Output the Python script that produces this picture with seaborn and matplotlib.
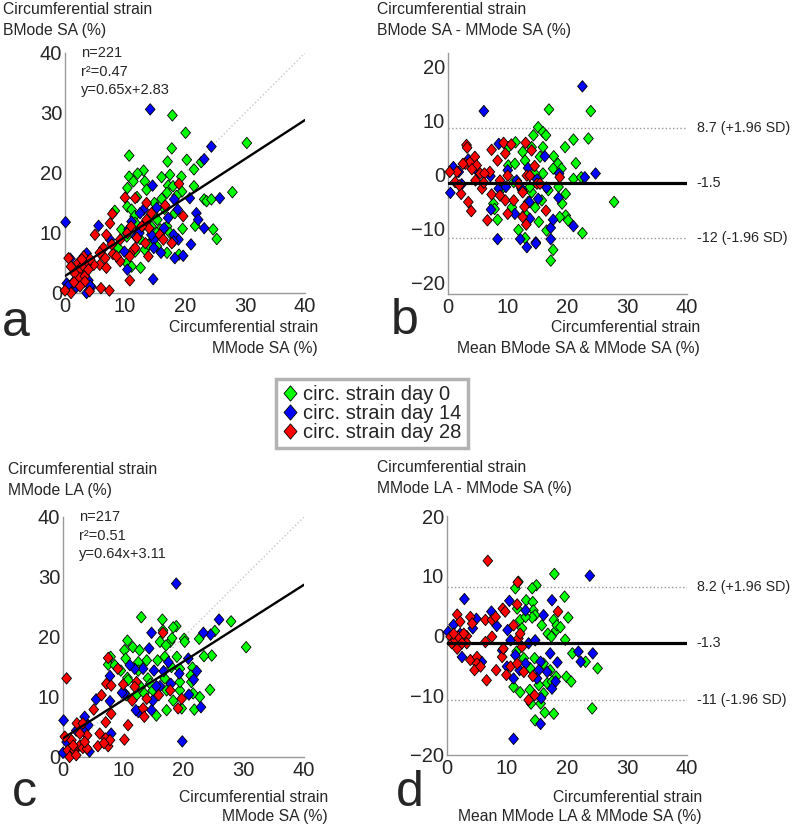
import pandas as pd
import matplotlib
matplotlib.use("Agg")
import matplotlib.pyplot as plt
import seaborn as sns
from matplotlib.path import Path
from matplotlib.markers import MarkerStyle
from matplotlib.lines import Line2D

groups = ["circ. strain day 0", "circ. strain day 14", "circ. strain day 28"]
colors = ["#00ff00", "#0000ff", "#ff0000"]

# panel a: BMode SA vs MMode SA
a_day0 = [(30.3, 25.0), (27.9, 16.8), (17.9, 29.6), (20.1, 26.7), (17.8, 24.1), (10.7, 22.9),
          (20.3, 22.2), (17.1, 21.9), (22.7, 21.8), (21.5, 20.6), (13.1, 20.4), (12.1, 19.9),
          (10.7, 19.4), (16.1, 19.3), (17.5, 19.7), (19.4, 19.4), (13.3, 18.6), (11.4, 18.6),
          (10.4, 17.5), (13.6, 17.2), (17.2, 17.9), (18.0, 17.8), (17.0, 16.7), (19.5, 16.9),
          (21.5, 17.8), (23.2, 15.6), (23.6, 15.3), (24.4, 15.6), (16.1, 15.7), (18.3, 13.3),
          (14.7, 13.3), (10.4, 14.4), (11.1, 13.9), (11.6, 12.8), (8.3, 13.7), (15.4, 12.2),
          (15.9, 10.6), (17.0, 11.1), (21.7, 11.2), (19.6, 10.7), (24.7, 10.6), (25.3, 9.0),
          (9.4, 10.6), (11.7, 11.7), (10.3, 9.4), (12.5, 9.0), (13.3, 7.2), (17.0, 6.7),
          (19.0, 6.4), (8.9, 7.5), (10.3, 5.0), (11.1, 4.4), (12.6, 4.2), (13.9, 8.1),
          (15.3, 10.0), (15.3, 7.8), (17.5, 10.0), (11.7, 6.9), (14.4, 11.1), (12.5, 10.6),
          (14.9, 15.0), (16.6, 14.0), (18.6, 16.2), (12.0, 16.0)]
a_day14 = [(14.2, 30.6), (24.4, 24.4), (23.2, 22.3), (14.6, 17.9), (20.8, 15.8), (25.8, 15.8),
           (18.2, 15.6), (15.3, 14.2), (13.1, 13.9), (21.9, 13.3), (22.2, 12.2), (23.2, 10.8),
           (18.8, 13.9), (18.9, 8.9), (18.1, 9.7), (16.5, 10.8), (21.0, 8.1), (18.3, 5.8),
           (19.7, 6.2), (14.7, 2.3), (14.8, 8.9), (14.8, 7.5), (11.1, 11.9), (11.8, 9.4),
           (12.4, 10.0), (10.4, 3.9), (9.9, 6.9), (7.5, 8.9), (5.6, 11.2), (0.1, 11.8),
           (3.6, 6.6), (0.9, 5.7), (0.3, 1.6), (0.6, 1.2), (1.5, 1.9), (3.6, 0.0),
           (3.9, 2.1), (4.4, 1.0), (1.9, 1.0), (2.5, 4.0), (4.2, 1.2), (13.6, 11.9),
           (12.5, 13.3), (10.6, 10.6), (14.4, 9.7), (17.2, 12.5), (18.1, 8.6), (16.0, 6.7)]
a_day28 = [(19.0, 18.2), (10.0, 15.9), (11.7, 15.8), (13.6, 15.0), (16.7, 14.6), (19.7, 12.8),
           (7.9, 13.2), (7.5, 11.6), (5.0, 9.7), (6.9, 9.7), (10.4, 10.0), (11.0, 11.1),
           (12.0, 9.2), (13.4, 8.3), (13.9, 6.1), (11.4, 7.2), (10.8, 6.1), (9.2, 5.3),
           (8.0, 6.5), (7.8, 8.1), (6.4, 7.5), (6.7, 5.8), (5.8, 4.7), (6.9, 4.2),
           (4.8, 4.7), (3.6, 4.7), (3.1, 6.1), (0.6, 5.8), (2.2, 5.0), (2.8, 4.4),
           (2.2, 3.6), (1.7, 3.2), (2.5, 2.5), (3.3, 2.8), (3.3, 1.9), (2.5, 1.1),
           (1.0, 0.0), (0.0, 0.4), (4.1, 0.3), (6.0, 0.8), (7.4, 0.4), (10.8, 2.1),
           (3.9, 3.9), (4.2, 5.6), (2.8, 5.6), (15.8, 9.7), (16.4, 8.9), (17.8, 8.3),
           (14.0, 10.8), (12.8, 11.1), (11.7, 7.5), (9.2, 8.9), (1.5, 1.8), (1.0, 4.4),
           (5.8, 6.7), (8.6, 6.1), (14.4, 13.3), (13.6, 12.2)]

# panel b: Bland-Altman BMode SA vs MMode SA
b_day0 = [(23.9, 11.8), (16.9, 12.1), (23.5, 6.7), (15.1, 8.8), (14.3, 7.3), (15.9, 7.9),
          (16.4, 7.3), (21.0, 6.5), (19.6, 5.1), (11.3, 6.0), (10.1, 5.1), (14.0, 5.1),
          (15.9, 5.1), (17.7, 3.4), (21.4, 2.1), (18.4, 2.0), (12.5, 4.2), (10.1, 1.7),
          (11.2, 2.0), (12.9, 2.6), (15.4, 3.3), (15.9, 0.2), (17.6, 1.1), (14.5, 0.2),
          (19.0, 1.1), (21.0, -0.8), (22.3, -0.5), (19.7, -3.6), (18.5, -2.3), (16.8, -2.9),
          (14.0, -3.3), (12.4, -2.9), (11.0, -1.4), (9.3, -2.3), (7.6, -5.4), (10.7, -6.1),
          (13.4, -5.1), (14.6, -6.1), (15.7, -4.8), (19.1, -5.4), (27.8, -5.1), (19.7, -7.6),
          (20.1, -8.5), (18.7, -7.9), (15.2, -8.8), (8.3, -8.4), (7.8, -6.4), (11.8, -10.3),
          (12.9, -11.8), (22.5, -10.9), (16.5, -10.4), (17.6, -14.0), (17.2, -16.0), (12.9, -7.3),
          (13.7, -2.3), (15.1, -1.4)]
b_day14 = [(22.5, 16.4), (6.0, 11.8), (16.2, 3.4), (8.5, 5.7), (13.4, 1.2), (24.7, 0.2),
           (22.9, -0.5), (18.6, 0.2), (14.9, -0.9), (0.9, 1.4), (1.8, 0.5), (0.4, -3.4),
           (2.3, -1.8), (3.4, 2.8), (5.0, 0.5), (7.1, -0.3), (8.5, -2.6), (9.7, -2.3),
           (11.5, -1.1), (10.0, 0.8), (7.2, -6.5), (8.3, -12.0), (11.2, -7.3), (12.1, -12.0),
           (13.2, -13.5), (14.7, -12.6), (13.7, -8.2), (13.6, -5.1), (14.7, -12.8), (17.2, -12.0),
           (17.2, -9.9), (17.6, -8.4), (18.5, -4.3), (16.5, -2.4), (21.0, -9.6), (15.1, -4.5),
           (12.3, -2.6)]
b_day28 = [(3.1, 5.5), (3.2, 5.0), (1.5, 0.5), (0.3, 0.5), (1.2, -1.4), (2.2, -3.6),
           (3.4, -5.1), (3.9, -6.8), (6.6, -8.5), (2.9, 2.0), (3.7, 2.3), (4.5, 3.3),
           (4.8, 1.7), (5.4, 0.2), (5.7, -2.6), (7.0, 0.5), (7.3, 4.6), (8.3, 2.6),
           (9.3, 5.9), (9.6, 3.9), (7.3, -3.7), (8.7, -3.9), (9.6, -4.8), (10.0, -7.3),
           (11.0, -4.8), (10.6, 5.6), (10.0, -0.2), (13.0, 5.9), (14.0, 4.5), (13.2, -0.2),
           (12.5, -3.3), (12.5, -7.9), (13.1, -9.3), (12.8, -6.0), (16.4, -6.7), (18.7, -0.5),
           (14.5, 1.6), (13.7, -0.2), (6.1, 0.2), (4.6, -1.1), (2.5, 2.0), (14.9, -1.7),
           (15.4, -1.7), (11.8, -1.7), (8.7, -1.1), (1.9, -2.0), (4.0, 1.0), (6.0, -1.5)]

# panel c: MMode LA vs MMode SA
c_day0 = [(30.4, 18.3), (27.9, 22.6), (25.2, 21.0), (24.7, 16.9), (23.4, 16.8), (24.4, 11.2),
          (22.7, 10.0), (21.8, 7.9), (21.6, 10.6), (22.6, 19.7), (21.5, 14.9), (21.2, 13.6),
          (21.3, 12.5), (20.1, 19.7), (20.2, 19.2), (18.8, 21.8), (18.3, 21.6), (16.5, 22.9),
          (13.0, 23.3), (16.6, 21.1), (16.1, 19.2), (17.8, 19.2), (18.1, 19.8), (17.1, 18.6),
          (16.9, 16.7), (18.9, 16.7), (18.0, 15.0), (15.7, 16.1), (10.7, 19.4), (11.6, 18.3),
          (12.7, 17.8), (10.2, 17.8), (10.4, 16.4), (13.9, 16.1), (12.5, 15.8), (7.9, 16.7),
          (7.5, 15.4), (8.6, 15.3), (9.6, 14.4), (10.7, 13.2), (12.5, 14.4), (14.1, 13.1),
          (14.5, 12.2), (12.9, 11.7), (12.2, 10.3), (13.5, 10.6), (14.9, 11.1), (16.9, 13.1),
          (17.2, 11.1), (15.5, 6.9), (17.2, 7.8), (18.3, 9.4), (19.7, 8.1), (19.4, 11.1),
          (10.5, 10.3), (10.8, 12.8), (19.4, 12.5), (19.4, 14.7)]
c_day14 = [(18.8, 28.9), (25.9, 22.9), (24.5, 20.4), (23.3, 20.7), (14.7, 20.7), (14.3, 18.1),
           (20.8, 16.4), (22.2, 14.3), (21.7, 12.9), (22.9, 8.3), (20.9, 10.4), (19.3, 13.9),
           (17.5, 15.8), (15.1, 14.4), (16.7, 14.3), (16.1, 11.8), (17.9, 12.2), (14.9, 9.4),
           (14.7, 7.8), (13.3, 14.7), (11.9, 14.7), (11.1, 15.3), (10.2, 10.6), (9.8, 10.7),
           (12.5, 7.5), (12.1, 7.8), (7.8, 13.5), (7.8, 9.3), (8.0, 3.9), (5.5, 9.6),
           (3.6, 6.7), (3.3, 4.7), (4.2, 5.3), (0.1, 6.1), (0.6, 2.5), (0.0, 0.7),
           (4.4, 0.9), (2.2, 4.4), (19.8, 2.6), (15.5, 11.8)]
c_day28 = [(0.6, 13.1), (16.6, 20.7), (7.5, 16.5), (9.1, 14.7), (7.2, 12.2), (8.0, 11.9),
           (6.4, 10.3), (5.1, 7.9), (8.0, 7.2), (7.1, 5.8), (10.8, 5.3), (10.2, 2.9),
           (6.1, 3.9), (5.8, 1.8), (7.1, 3.1), (7.5, 1.8), (7.8, 2.8), (6.8, 2.3),
           (10.0, 12.1), (12.2, 12.5), (11.5, 9.4), (11.9, 11.7), (13.9, 9.7), (13.3, 8.1),
           (13.5, 6.7), (15.9, 10.3), (17.8, 11.1), (19.7, 9.7), (19.1, 8.1), (2.3, 5.6),
           (3.3, 5.6), (4.0, 3.6), (2.8, 3.9), (1.4, 2.8), (0.3, 3.4), (0.8, 1.1),
           (1.1, 0.0), (1.9, 1.1), (2.8, 1.9), (2.2, 0.3), (3.3, 1.5), (4.0, 1.4),
           (1.7, 1.9), (3.6, 2.5)]

# panel d: Bland-Altman MMode LA vs MMode SA
d_day0 = [(17.9, 10.3), (11.9, 9.0), (14.9, 8.4), (14.2, 7.9), (11.4, 7.9), (19.6, 6.5),
          (13.2, 5.9), (14.3, 5.6), (11.7, 4.5), (14.4, 4.2), (14.7, 3.4), (17.8, 2.6),
          (20.2, 3.0), (14.2, 3.0), (12.2, 2.6), (15.8, 1.7), (16.8, 0.3), (19.7, -0.7),
          (17.4, -0.2), (18.2, 0.9), (18.3, 1.7), (18.9, 1.4), (20.9, -3.0), (23.1, -4.4),
          (25.1, -5.5), (19.9, -6.9), (20.7, -7.7), (18.2, -6.9), (17.2, -5.8), (16.1, -4.7),
          (16.7, -8.0), (17.5, -7.7), (15.3, -8.3), (11.6, -2.7), (12.8, -3.8), (11.1, -8.6),
          (12.2, -9.5), (13.8, -9.1), (14.0, -11.4), (16.1, -9.7), (15.6, -11.4), (16.3, -12.9),
          (17.8, -13.1), (14.7, -14.2), (24.2, -12.2), (13.9, -5.5), (14.6, -3.8), (12.5, 1.2),
          (13.1, 3.1)]
d_day14 = [(23.8, 10.0), (2.9, 6.1), (10.4, 5.8), (13.1, 4.2), (7.4, 4.0), (8.3, 1.6),
           (16.1, 3.4), (17.5, 5.9), (4.9, 2.8), (4.3, 1.2), (1.1, 1.8), (0.2, 0.6),
           (2.2, 0.3), (2.5, -3.6), (5.8, -4.4), (9.2, -2.5), (10.1, 0.9), (10.6, -0.8),
           (11.4, -3.3), (12.1, -5.8), (13.1, -4.7), (13.6, -1.3), (14.7, -0.8), (15.6, -4.4),
           (15.3, -5.8), (15.0, -7.2), (16.7, -6.1), (18.4, -4.5), (18.1, -7.7), (17.5, -8.9),
           (10.0, -5.2), (11.1, -7.2), (15.7, -10.5), (15.6, -14.8), (11.1, -17.3), (21.9, -2.7),
           (22.3, -4.4), (24.3, -3.0), (17.2, -3.0)]
d_day28 = [(6.8, 12.5), (11.8, 8.9), (11.7, 5.2), (9.3, 4.5), (9.7, 4.0), (18.5, 4.0),
           (1.7, 3.5), (3.9, 3.1), (4.2, 2.0), (2.2, 2.3), (6.4, 2.6), (7.5, 2.6),
           (8.1, 3.1), (3.3, -0.1), (0.6, -0.2), (0.8, -1.3), (1.4, -0.8), (1.9, -0.2),
           (2.8, 0.3), (1.7, -2.2), (3.9, -4.1), (5.0, -3.6), (5.0, -4.7), (4.6, -5.8),
           (5.6, -5.2), (6.6, -7.5), (8.2, -5.8), (6.4, -1.1), (7.5, -0.2), (9.2, -3.6),
           (9.9, -6.6), (10.6, -5.2), (11.7, -4.7), (11.1, 1.7), (11.9, -0.5), (12.2, 0.3),
           (12.8, -6.1), (13.6, -10.8), (14.6, -10.0), (14.3, -6.8), (12.5, -1.9), (9.4, -2.2),
           (1.1, 0.3), (3.3, -1.3), (2.5, -1.3)]

# regression / agreement statistics printed on the chart
a_fit = (0.65, 2.83)
c_fit = (0.64, 3.11)
b_limits = (-1.5, 8.7, -11.7)
d_limits = (-1.3, 8.2, -10.8)

sns.set_style("white")
plt.rcParams["font.family"] = ["Liberation Sans", "DejaVu Sans"]

diamond = MarkerStyle(Path([(0, 1), (0.85, 0), (0, -1), (-0.85, 0), (0, 1)],
                           [Path.MOVETO, Path.LINETO, Path.LINETO, Path.LINETO, Path.CLOSEPOLY]))


def to_frame(day0, day14, day28):
    rows = []
    for name, pts in zip(groups, (day0, day14, day28)):
        for x, y in pts:
            rows.append((name, x, y))
    return pd.DataFrame(rows, columns=["group", "x", "y"])


def points(ax, df):
    sns.scatterplot(data=df, x="x", y="y", hue="group", hue_order=groups, palette=colors,
                    marker=diamond, s=68, edgecolor="black", linewidth=0.6,
                    legend=False, ax=ax, clip_on=False, zorder=3)


def style_axes(ax, ylim, yticks):
    ax.set_xlim(0, 40)
    ax.set_ylim(*ylim)
    ax.set_xticks([0, 10, 20, 30, 40])
    ax.set_yticks(yticks)
    for s in ["top", "right"]:
        ax.spines[s].set_visible(False)
    for s in ["left", "bottom"]:
        ax.spines[s].set_color("#9a9a9a")
        ax.spines[s].set_linewidth(1.0)
    ax.tick_params(direction="in", length=3, width=0.8, color="#9a9a9a", labelsize=14.5)
    ax.tick_params(axis="y", pad=2)
    ax.tick_params(axis="x", pad=3)
    ax.set_xlabel("")
    ax.set_ylabel("")


W, H = 796, 827
fig = plt.figure(figsize=(W / 100, H / 100), dpi=100)


def axes_px(left, top, right, bottom):
    return fig.add_axes([left / W, 1 - bottom / H, (right - left) / W, (bottom - top) / H])


def ftext(x, y, s, **kw):
    fig.text(x / W, 1 - y / H, s, **kw)


ax_a = axes_px(65, 53, 305, 293)
ax_b = axes_px(448, 53, 687, 294)
ax_c = axes_px(63, 517, 304, 757)
ax_d = axes_px(447, 516, 687, 755)

# regression panels
for ax, df, fit, stats in [(ax_a, to_frame(a_day0, a_day14, a_day28), a_fit, ("n=221", "r²=0.47")),
                           (ax_c, to_frame(c_day0, c_day14, c_day28), c_fit, ("n=217", "r²=0.51"))]:
    ax.plot([0, 40], [0, 40], linestyle=":", color="#c8c8c8", lw=1, zorder=1)
    points(ax, df)
    ax.plot([0, 40], [fit[1], fit[0] * 40 + fit[1]], color="black", lw=1.7, zorder=4)
    lines = [stats[0], stats[1], f"y={fit[0]:.2f}x+{fit[1]:.2f}"]
    for i, t in enumerate(lines):
        ax.text(2.6, 40 - i * 3.1, t, fontsize=10.5, va="center", ha="left")
    style_axes(ax, (0, 40), [0, 10, 20, 30, 40])

# Bland-Altman panels
for ax, df, lim, ylim, labels in [
        (ax_b, to_frame(b_day0, b_day14, b_day28), b_limits, (-22.2, 22.6),
         ("-1.5", "8.7 (+1.96 SD)", "-12 (-1.96 SD)")),
        (ax_d, to_frame(d_day0, d_day14, d_day28), d_limits, (-20, 20),
         ("-1.3", "8.2 (+1.96 SD)", "-11 (-1.96 SD)"))]:
    points(ax, df)
    ax.plot([0, 40], [lim[0], lim[0]], color="black", lw=2.3, zorder=4)
    ax.plot([0, 40], [lim[1], lim[1]], color="#999999", lw=1, linestyle=":", zorder=1)
    ax.plot([0, 40], [lim[2], lim[2]], color="#999999", lw=1, linestyle=":", zorder=1)
    tr = ax.get_yaxis_transform()
    for v, t in zip(lim, labels):
        ax.text(1.04, v, t, transform=tr, fontsize=10.3, va="center", ha="left")
    style_axes(ax, ylim, [-20, -10, 0, 10, 20])

# axis titles
fs = 11.3
ftext(3, 10, "Circumferential strain", fontsize=fs, va="center")
ftext(3, 31, "BMode SA (%)", fontsize=fs, va="center")
ftext(377, 10, "Circumferential strain", fontsize=fs, va="center")
ftext(377, 31, "BMode SA - MMode SA (%)", fontsize=fs, va="center")
ftext(8, 469, "Circumferential strain", fontsize=fs, va="center")
ftext(8, 490, "MMode LA (%)", fontsize=fs, va="center")
ftext(377, 468, "Circumferential strain", fontsize=fs, va="center")
ftext(377, 489, "MMode LA - MMode SA (%)", fontsize=fs, va="center")

ftext(318, 327, "Circumferential strain", fontsize=fs, va="center", ha="right")
ftext(318, 348, "MMode SA (%)", fontsize=fs, va="center", ha="right")
ftext(700, 327, "Circumferential strain", fontsize=fs, va="center", ha="right")
ftext(700, 348, "Mean BMode SA & MMode SA (%)", fontsize=fs, va="center", ha="right")
ftext(328, 797, "Circumferential strain", fontsize=fs, va="center", ha="right")
ftext(328, 816, "MMode SA (%)", fontsize=fs, va="center", ha="right")
ftext(702, 797, "Circumferential strain", fontsize=fs, va="center", ha="right")
ftext(702, 816, "Mean MMode LA & MMode SA (%)", fontsize=fs, va="center", ha="right")

# panel letters
for x, y, s in [(2, 336, "a"), (391, 334, "b"), (12, 806, "c"), (396, 806, "d")]:
    ftext(x, y, s, fontsize=36, va="baseline", ha="left")

# shared legend
handles = [Line2D([], [], linestyle="none", marker=diamond, markersize=11, markerfacecolor=c,
                  markeredgecolor="black", markeredgewidth=0.6) for c in colors]
leg = fig.legend(handles, groups, loc="center", bbox_to_anchor=(372 / W, 1 - 413.5 / H),
                 frameon=True, fancybox=False, fontsize=14.5, handlelength=0.8,
                 handletextpad=0.25, labelspacing=0.02, borderpad=0.3, borderaxespad=0)
leg.get_frame().set_edgecolor("#a0a0a0")
leg.get_frame().set_linewidth(2.5)

fig.savefig("out.png", dpi=100)
